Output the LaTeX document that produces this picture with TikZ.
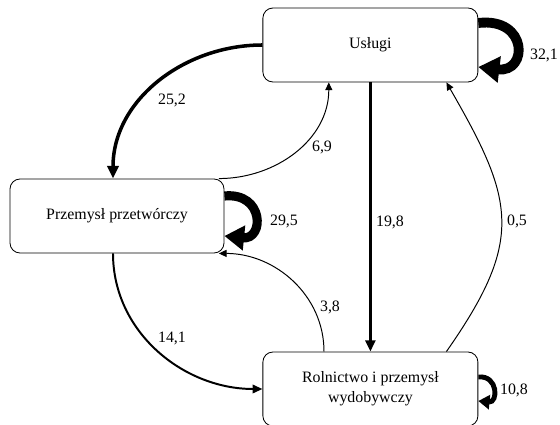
\documentclass[tikz,border=0pt]{standalone}
\usepackage{fontspec}
\setmainfont{Liberation Serif}
\usetikzlibrary{arrows.meta,positioning}
\tikzset{
	box/.style={draw,rectangle,rounded corners=0.25cm,align=center,minimum width=5.375cm,minimum height=1.85cm,line width=0.6pt},
	lbl/.style={inner sep=1pt},
	flow/.style={-{Triangle[length=5.5pt,width=5pt]},line width=0.7pt},
	loop/.style={-{Triangle[length=15pt,width=18pt]},line width=7pt}
}
\begin{document}
\begin{tikzpicture}[font=\fontsize{11.3}{14}\selectfont]
            \useasboundingbox (0,0) rectangle (14,10.625);
            \node[box] (usl) at (9.26,9.5) {Usługi};
            \node[box,minimum width=5.35cm] (prz) at (2.925,5.225) {Przemysł przetwórczy};
            \node[box] (rol) at (9.26,0.9) {Rolnictwo i przemysł\\wydobywczy};
            \draw[flow,-{Triangle[length=9pt,width=8pt]},line width=2.5pt] (usl.west) to[out=180,in=90] ([xshift=-0.1cm]prz.north);
            \draw[flow] ([xshift=-4pt]prz.north east) to[out=0,in=-90] ([xshift=-1.04cm]usl.south);
            \draw[flow,-{Triangle[length=8pt,width=7pt]},line width=2pt] (usl.south) -- (rol.north);
            \draw[flow] ([xshift=1.9cm]rol.north) to[out=55,in=-60,looseness=1.3] ([xshift=1.9cm]usl.south);
            \draw[flow] ([xshift=-1.16cm]rol.north) to[out=90,in=0] ([xshift=-4pt]prz.south east);
            \draw[flow,-{Triangle[length=7pt,width=6pt]},line width=1.4pt] ([xshift=-0.1cm]prz.south) to[out=-90,in=180] (rol.west);
            \draw[loop] ([yshift=0.55cm]usl.east) .. controls +(1.25,0.15) and +(1.25,-0.15) .. ([yshift=-0.55cm]usl.east);
            \draw[loop,line width=6.5pt,-{Triangle[length=14pt,width=17pt]}] ([yshift=0.5cm]prz.east) .. controls +(1.0,0.1) and +(1.0,-0.1) .. ([yshift=-0.5cm]prz.east);
            \draw[loop,line width=3.5pt,-{Triangle[length=8pt,width=10pt]}] ([yshift=0.3cm]rol.east) .. controls +(0.5,0.05) and +(0.5,-0.05) .. ([yshift=-0.3cm]rol.east);
            \node[lbl] (w25) at (4.3,8.125) {25,2};
            \node[lbl] (w69) at (8.05,6.95) {6,9};
            \node[lbl] (w19) at (9.75,5.075) {19,8};
            \node[lbl] (w05) at (12.925,5.1) {0,5};
            \node[lbl] (w38) at (8.25,2.95) {3,8};
            \node[lbl] (w14) at (4.3,2.175) {14,1};
            \node[lbl] (w32) at (13.6,9.25) {32,1};
            \node[lbl] (w29) at (7.1,5.1) {29,5};
            \node[lbl] (w10) at (12.85,0.875) {10,8};
        \end{tikzpicture}
\end{document}
